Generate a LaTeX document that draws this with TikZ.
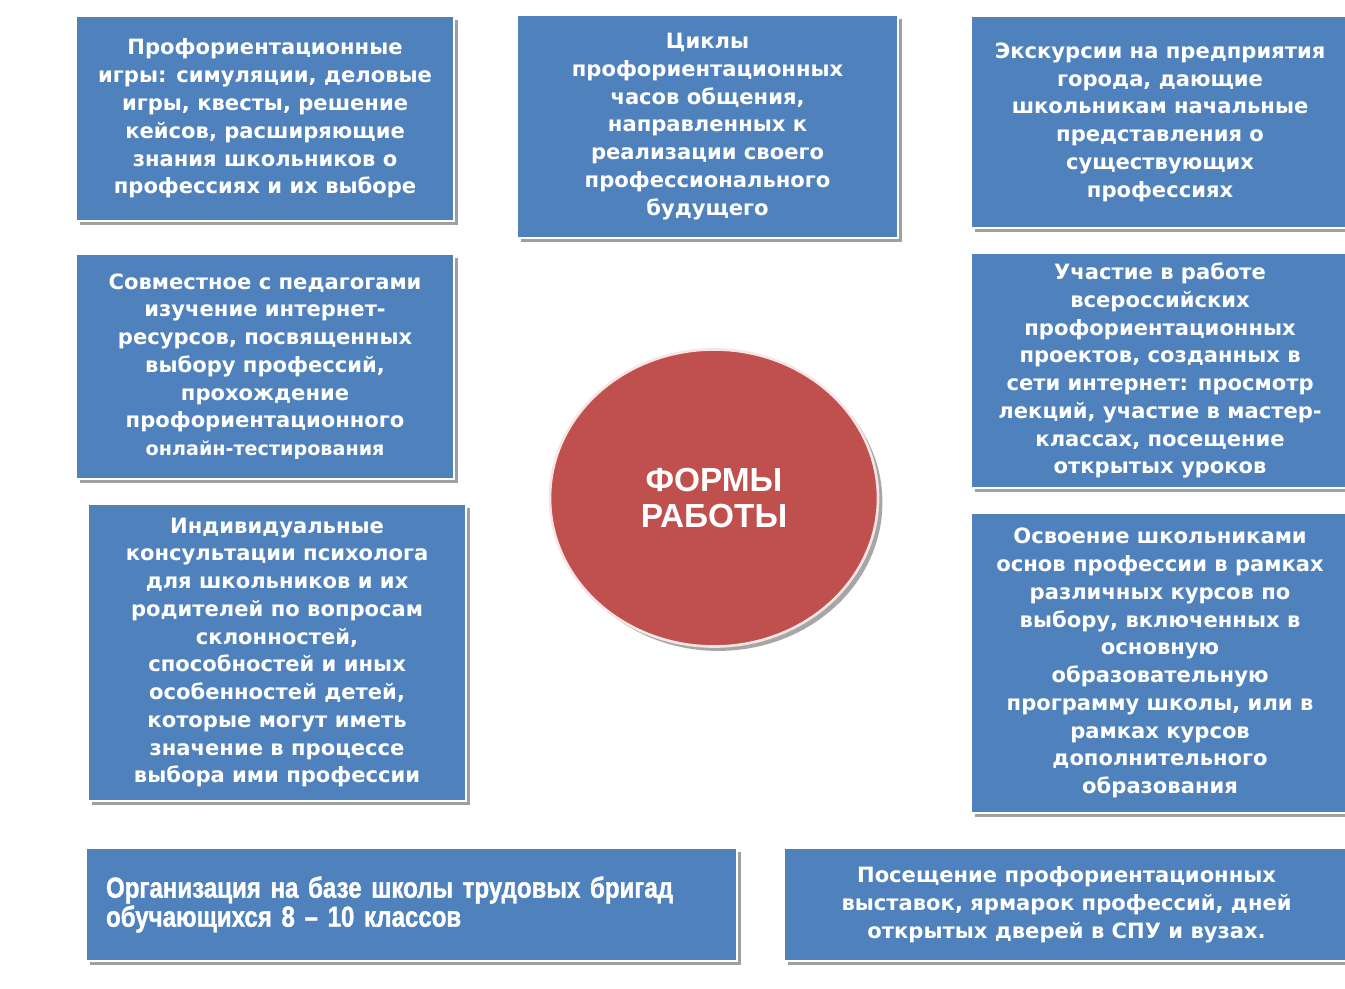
\documentclass[tikz,border=0pt]{standalone}
\usepackage{fontspec}
\setmainfont{DejaVu Sans}
\newfontfamily\arialfont{Liberation Sans}
\newfontfamily\narrowfont[FakeStretch=0.83, FakeBold=1.3]{Liberation Sans Bold}
\usetikzlibrary{shapes,shadows}
\definecolor{formblue}{HTML}{4F81BD}
\definecolor{formred}{HTML}{C0504D}
\tikzset{
    form/.style={
        rectangle,
        draw=white,
        line width=1.2pt,
        fill=formblue,
        text=white,
        font=\bfseries\fontsize{12}{15.8}\selectfont,
        align=center,
        anchor=north west,
        inner sep=0pt,
        drop shadow={shadow xshift=2.5pt, shadow yshift=-2.5pt, fill=gray!75, opacity=1},
    },
    boxdim/.style 2 args={
        minimum width=#1*0.02cm,
        minimum height=#2*0.02cm,
    },
    centre/.style={
        ellipse,
        draw=white!85!formred,
        line width=1.5pt,
        fill=formred,
        text=white,
        font=\arialfont\bfseries\fontsize{19}{21}\selectfont,
        align=center,
        minimum width=328*0.02cm,
        minimum height=297*0.02cm,
        drop shadow={shadow xshift=2.5pt, shadow yshift=-2.5pt, fill=gray!70, opacity=1},
    },
}

\begin{document}
\begin{tikzpicture}[x=0.02cm, y=-0.02cm]

    % Page frame
    \useasboundingbox[fill=white] (0,0) rectangle (1345,988);

    % Top row
    \node [form, boxdim={378}{205}] (games) at (75,15)
        {Профориентационные\\игры: симуляции, деловые\\игры, квесты, решение\\кейсов, расширяющие\\знания школьников о\\профессиях и их выборе};
    \node [form, boxdim={381}{223}] (cycles) at (516,14)
        {Циклы\\профориентационных\\часов общения,\\направленных к\\реализации своего\\профессионального\\будущего};
    \node [form, boxdim={378}{212}] (tours) at (970,15)
        {Экскурсии на предприятия\\города, дающие\\школьникам начальные\\представления о\\существующих\\профессиях};

    % Middle rows
    \node [form, boxdim={378}{225}] (online) at (75,253)
        {Совместное с педагогами\\изучение интернет-\\ресурсов, посвященных\\выбору профессий,\\прохождение\\профориентационного\\{\fontsize{10.9}{15.8}\selectfont онлайн-тестирования}};
    \node [form, boxdim={378}{235}] (projects) at (970,252)
        {Участие в работе\\всероссийских\\профориентационных\\проектов, созданных в\\сети интернет: просмотр\\лекций, участие в мастер-\\классах, посещение\\открытых уроков};
    \node [form, boxdim={378}{297}] (consult) at (87,503)
        {Индивидуальные\\консультации психолога\\для школьников и их\\родителей по вопросам\\склонностей,\\способностей и иных\\особенностей детей,\\которые могут иметь\\значение в процессе\\выбора ими профессии};
    \node [form, boxdim={378}{300}] (courses) at (970,512)
        {Освоение школьниками\\основ профессии в рамках\\различных курсов по\\выбору, включенных в\\основную\\образовательную\\программу школы, или в\\рамках курсов\\дополнительного\\образования};

    % Bottom row
    \node [form, boxdim={651}{113}, align=left, inner xsep=0.4cm, text width=611*0.02cm,
           font=\narrowfont\fontsize{16.5}{15.5}\selectfont] (brigades) at (85,847)
        {Организация на базе школы трудовых бригад\\обучающихся 8 – 10 классов};
    \node [form, boxdim={565}{113}] (fairs) at (783,847)
        {Посещение профориентационных\\выставок, ярмарок профессий, дней\\открытых дверей в СПУ и вузах.};

    % Centre
    \node [centre] (forms) at (714,498) {ФОРМЫ\\РАБОТЫ};

\end{tikzpicture}
\end{document}
